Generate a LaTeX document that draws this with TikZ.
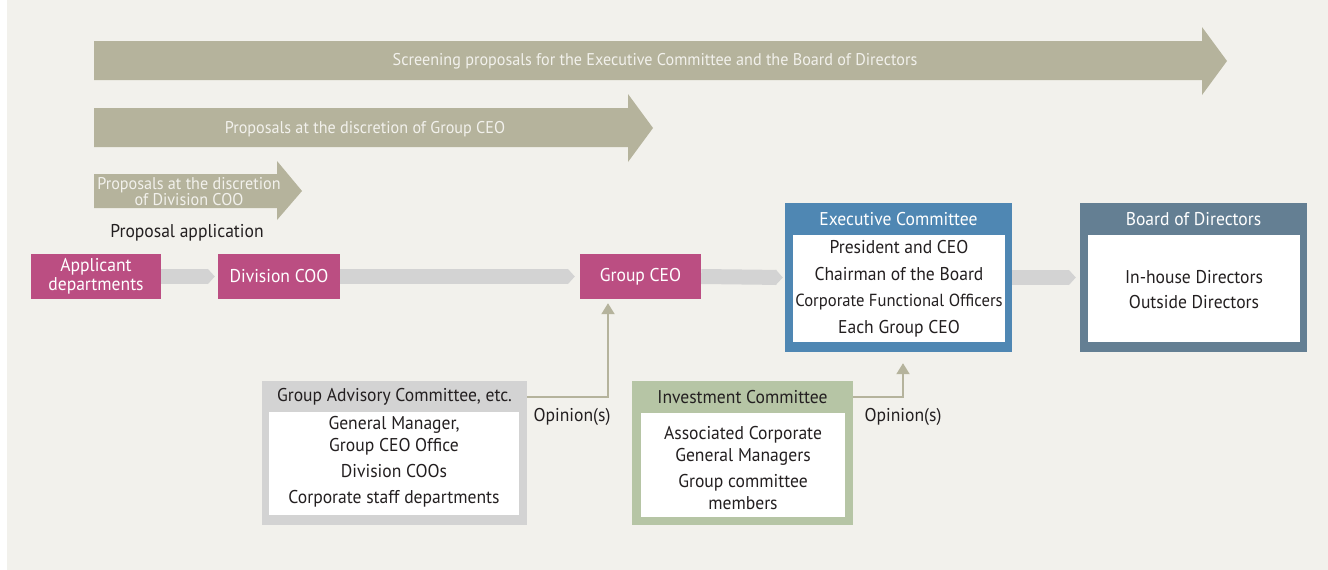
\documentclass[tikz,border=0pt]{standalone}
\usepackage{fontspec}
\setmainfont{PT Sans}[FakeStretch=0.95]
\usepackage{tikz}
\usetikzlibrary{arrows.meta, positioning, calc}
\usepackage{xcolor}
\definecolor{bgcol}{HTML}{F2F1EC}
\definecolor{propcol}{HTML}{B5B39C}
\definecolor{magcol}{HTML}{BB4E82}
\definecolor{execcol}{HTML}{4F87B3}
\definecolor{boardcol}{HTML}{647F93}
\definecolor{flowgray}{HTML}{D3D3D3}
\definecolor{invcol}{HTML}{B6C5A5}
\definecolor{txtcol}{HTML}{231F20}

\begin{document}
\begin{tikzpicture}[x=1pt, y=-1pt,
  every node/.style={inner sep=0pt, text=txtcol, font=\fontsize{18.5}{21}\selectfont},
  arrowtext/.style={text=bgcol, align=center, font=\fontsize{17}{16}\selectfont},
  magbox/.style={fill=magcol, text=white, align=center, minimum height=45pt, font=\fontsize{18.5}{19}\selectfont},
  outerbox/.style={minimum width=#1, minimum height=149pt},
  inbox/.style={fill=white, minimum width=212pt, minimum height=107pt},
  flowarr/.style={draw=flowgray, line width=15pt, -{Triangle[length=7pt, width=15pt]}},
  opin/.style={draw=propcol, line width=2pt, -{Triangle[length=11pt, width=13pt]}}]
  \useasboundingbox (0,0) rectangle (1328,570);
  \fill[bgcol] (7,0) rectangle (1328,570);

  % proposal arrows
  \fill[propcol] (94,41) -- (1202,41) -- (1202,27) -- (1227,61) -- (1202,95) -- (1202,80) -- (94,80) -- cycle;
  \fill[propcol] (94,108) -- (628,108) -- (628,94) -- (653,128) -- (628,162) -- (628,147) -- (94,147) -- cycle;
  \fill[propcol] (94,174) -- (277,174) -- (277,161) -- (302,191) -- (277,220) -- (277,208) -- (94,208) -- cycle;
  \node[arrowtext] (scr) at (655,61) {Screening proposals for the Executive Committee and the Board of Directors};
  \node[arrowtext] (gceo) at (365,129) {Proposals at the discretion of Group CEO};
  \node[arrowtext] (dcoo) at (189,192) {Proposals at the discretion\\of Division COO};
  \node (papp) at (187,233) {Proposal application};

  % flow
  \node[magbox, minimum width=130pt] (appl) at (96,276.5) {Applicant\\departments};
  \node[magbox, minimum width=122pt] (divcoo) at (279,276.5) {Division COO};
  \node[magbox, minimum width=121pt] (grpceo) at (640.5,276.5) {Group CEO};

  \node[outerbox=227pt, fill=execcol] (exec) at (898.5,277.5) {};
  \node[inbox] (execin) at (899,288.5) {};
  \node[text=white] (exechd) at (898.5,219) {Executive Committee};
  \node[align=center, font=\fontsize{18.5}{26.5}\selectfont] (execmem) at (899,289) {President and CEO\\Chairman of the Board\\{\fontsize{17.5}{26.5}\selectfont Corporate Functional Officers}\\Each Group CEO};

  \node[outerbox=227pt, fill=boardcol] (board) at (1193.5,277.5) {};
  \node[inbox] (boardin) at (1194,288.5) {};
  \node[text=white] (boardhd) at (1193.5,219) {Board of Directors};
  \node[align=center, font=\fontsize{18.5}{25}\selectfont] (boardmem) at (1194,290) {In-house Directors\\Outside Directors};

  \draw[flowarr] (appl.east) -- ([xshift=-3pt]divcoo.west);
  \draw[flowarr] (divcoo.east) -- ([xshift=-5pt]grpceo.west);
  \draw[flowarr] (grpceo.east) -- ([xshift=-2pt]exec.west);
  \draw[flowarr] (exec.east) -- ([xshift=-4pt]board.west);

  % committees
  \node[fill=flowgray, minimum width=265pt, minimum height=144pt] (advis) at (394.5,453) {};
  \node[fill=white, minimum width=250pt, minimum height=103pt] (advisin) at (394,463.5) {};
  \node (advishd) at (394.5,397) {Group Advisory Committee, etc.};
  \node[align=center, font=\fontsize{18.5}{22}\selectfont] (advismem) at (394,462) {General Manager,\\Group CEO Office\\[4pt]Division COOs\\[4pt]Corporate staff departments};

  \node[fill=invcol, minimum width=221pt, minimum height=144pt] (invest) at (742.5,453) {};
  \node[fill=white, minimum width=204pt, minimum height=104pt] (investin) at (743,465) {};
  \node (investhd) at (742.5,397) {Investment Committee};
  \node[align=center, font=\fontsize{18.5}{22}\selectfont] (investmem) at (743,468) {Associated Corporate\\General Managers\\[4pt]Group committee\\members};

  \draw[opin] ([yshift=-16pt]advis.north east) -| ([xshift=-32.5pt, yshift=-4pt]grpceo.south);
  \draw[opin] ([yshift=-16pt]invest.north east) -| ([xshift=4.5pt, yshift=-11pt]exec.south);
  \node (op1) at (572,417) {Opinion(s)};
  \node (op2) at (903,417) {Opinion(s)};
\end{tikzpicture}
\end{document}
